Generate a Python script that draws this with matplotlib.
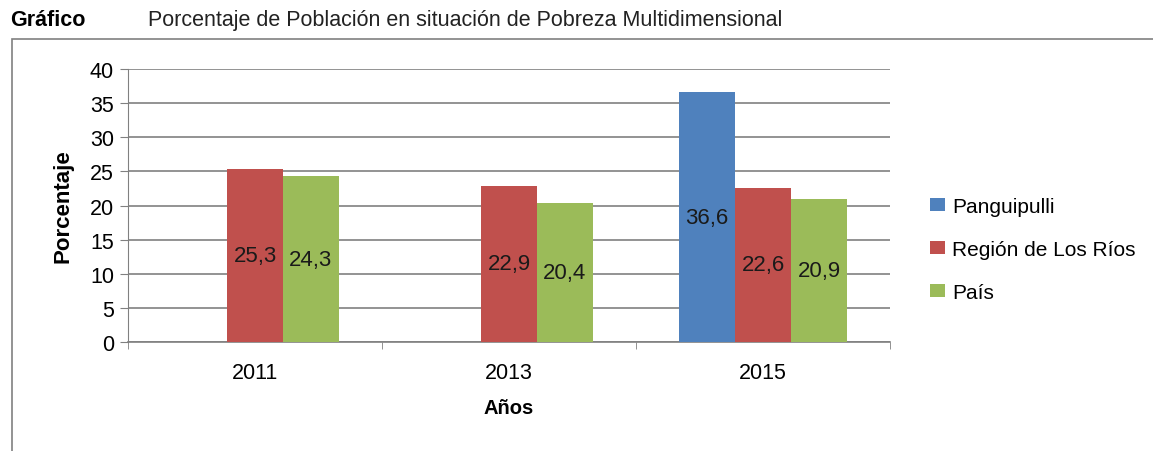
import numpy as np
import matplotlib.pyplot as plt
from matplotlib.patches import Rectangle

plt.rcParams['font.family'] = ['Liberation Sans', 'DejaVu Sans']

anios = ['2011', '2013', '2015']
series = ['Panguipulli', 'Región de Los Ríos', 'País']
panguipulli = [0, 0, 36.6]
region = [25.3, 22.9, 22.6]
pais = [24.3, 20.4, 20.9]
colores = ['#4F81BD', '#C0504D', '#9BBB59']

fig = plt.figure(figsize=(11.53, 4.52), dpi=100)
ax = fig.add_axes([0.111, 0.241, 0.661, 0.604])

x = np.arange(len(anios))
w = 0.22
valores = [panguipulli, region, pais]
for i, (nombre, vals, c) in enumerate(zip(series, valores, colores)):
    barras = ax.bar(x + (i - 1) * w, vals, width=w, color=c, label=nombre, zorder=3)
    for b, v in zip(barras, vals):
        if v > 0:
            ax.text(b.get_x() + b.get_width() / 2, v / 2, f'{v:.1f}'.replace('.', ','),
                    ha='center', va='center', fontsize=16, color='#1a1a1a', zorder=4)

ax.set_xlim(-0.5, 2.5)
ax.set_ylim(0, 40)
ax.set_yticks(range(0, 41, 5))
ax.set_xticks(x)
ax.set_xticklabels(anios)
ax.set_xticks([-0.5, 0.5, 1.5, 2.5], minor=True)
ax.tick_params(axis='x', which='major', length=0, labelsize=15.5, pad=14)
ax.tick_params(axis='x', which='minor', length=5, color='#808080', direction='out')
ax.tick_params(axis='y', length=6, color='#808080', labelsize=15.5, pad=4)
ax.yaxis.grid(True, color='#808080', linewidth=1.2, zorder=0)
for s in ['top', 'right']:
    ax.spines[s].set_visible(False)
ax.spines['left'].set_color('#808080')
ax.spines['bottom'].set_color('#808080')
ax.spines['bottom'].set_linewidth(1.2)
ax.set_ylabel('Porcentaje', fontsize=16, fontweight='bold', labelpad=12)
ax.set_xlabel('Años', fontsize=14.5, fontweight='bold', labelpad=11)

ax.legend(loc='center left', bbox_to_anchor=(1.028, 0.34), frameon=False, fontsize=15,
          handlelength=0.72, handleheight=0.62, handletextpad=0.33, labelspacing=1.15)

# marco exterior
fig.patches.append(Rectangle((0.010, -0.05), 1.1, 0.962, transform=fig.transFigure,
                             fill=False, edgecolor='#808080', linewidth=1.2))
fig.text(0.009, 0.955, 'Gráfico', fontsize=15.5, fontweight='bold', va='center')
fig.text(0.128, 0.955, 'Porcentaje de Población en situación de Pobreza Multidimensional',
         fontsize=15.5, va='center', color='#222222')

fig.savefig('out.png', dpi=100)
